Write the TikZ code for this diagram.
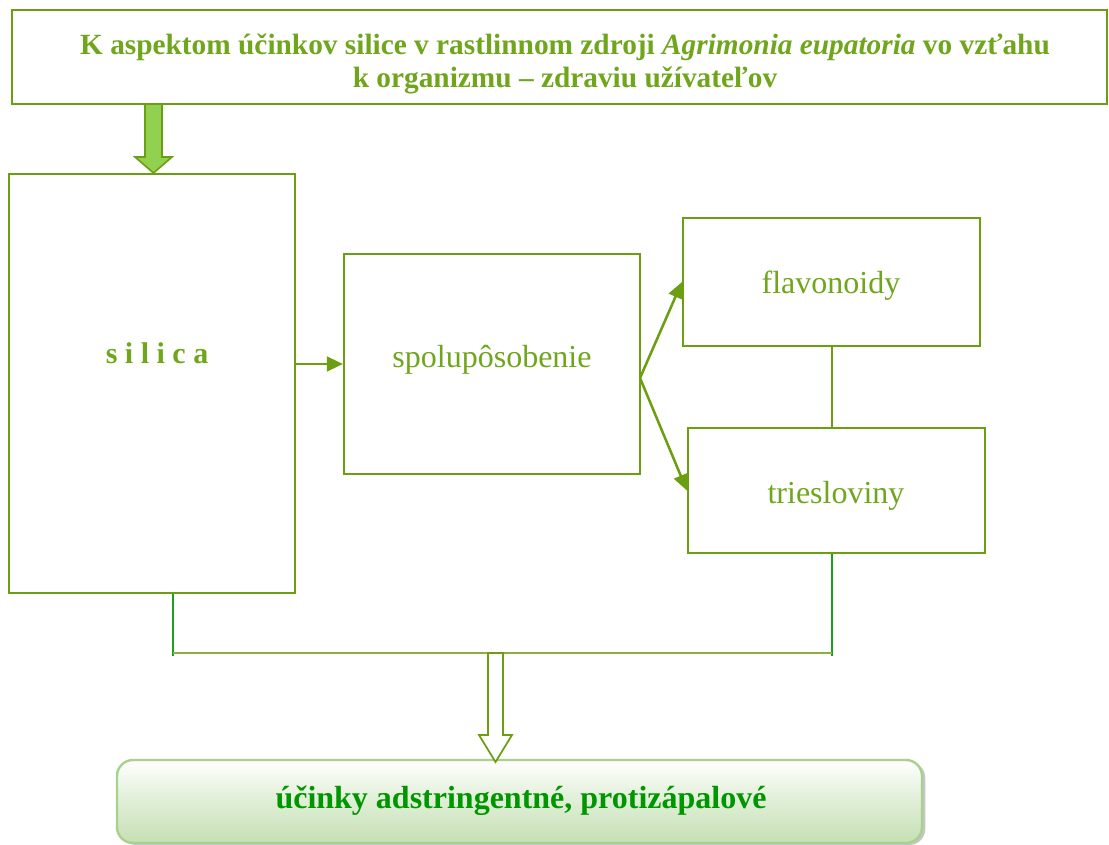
\documentclass[tikz,border=0pt]{standalone}
\usepackage{fontspec}
\setmainfont{Liberation Serif}
\usetikzlibrary{arrows.meta,fit,calc,shadows}
\definecolor{olive}{RGB}{108,158,18}
\definecolor{txtgreen}{RGB}{112,166,28}
\definecolor{linkgreen}{RGB}{30,160,30}
\definecolor{boldgreen}{RGB}{0,150,0}
\definecolor{leaf}{RGB}{146,208,80}
\definecolor{paleedge}{RGB}{169,209,142}
\definecolor{palefill}{RGB}{197,224,180}
\tikzset{
  box/.style={draw=olive, line width=1.6pt, inner sep=0pt, fill=white},
  boxtext/.style={text=txtgreen, font=\fontsize{24}{28}\selectfont},
  link/.style={draw=olive, line width=1.9pt,
    -{Triangle[length=12pt,width=11pt]}},
  joinline/.style={draw=linkgreen, line width=1.2pt},
  barline/.style={draw=olive!80, line width=1.5pt},
}
\begin{document}
\begin{tikzpicture}[x=0.75pt,y=-0.75pt]
\useasboundingbox (0,0) rectangle (1109,845);

% heading box
\node[box, fit={(12,10)(1107,104)}] (head) {};
\node[text=txtgreen, font=\bfseries\fontsize{22}{24.5}\selectfont, align=center]
  (headtxt) at (565,64)
  {K aspektom účinkov silice v rastlinnom zdroji \textit{Agrimonia eupatoria} vo vzťahu\\
   k organizmu – zdraviu užívateľov};

% main boxes
\node[box, fit={(9,174)(295,593)}] (silica) {};
\node[text=txtgreen, font=\bfseries\fontsize{22.5}{24}\selectfont] (silicatxt) at (157,353) {s i l i c a};
\node[box, fit={(344,254)(640,474)}] (sp) {};
\node[boxtext] (sptxt) at (492,360) {spolupôsobenie};
\node[box, fit={(683,218)(980,346)}] (flav) {};
\node[boxtext] (flavtxt) at (831,286) {flavonoidy};
\node[box, fit={(688,428)(985,553)}] (tri) {};
\node[boxtext] (tritxt) at (836,496) {triesloviny};

% filled arrow from the heading into silica
\draw[draw=olive, line width=1.2pt, fill=leaf, line join=miter]
  (145,104) -- (145,157) -- (135,157) -- (153.5,173) -- (172,157) -- (162,157) -- (162,104) -- cycle;

% arrows between boxes
\draw[link] (silica.east |- sp.west) -- (sp.west);
\coordinate (fork) at (640,378);
\draw[link] (fork) -- (flav.west);
\draw[link] (fork) -- (tri.west);
\draw[draw=olive, line width=1.5pt] (flav.south) -- (flav.south |- tri.north);

% collecting lines at the bottom
\coordinate (jl) at (173,656);
\coordinate (jr) at (832,656);
\draw[joinline] (silica.south -| jl) -- (jl);
\draw[joinline] (tri.south -| jr) -- (jr);
\draw[barline] (173,653) -- (832,653);

% result box
\node[draw=paleedge, line width=1.8pt, rounded corners=12pt, inner sep=0pt,
  top color=white, bottom color=palefill, middle color=white!45!palefill,
  drop shadow={shadow xshift=2.5pt, shadow yshift=-1.5pt, opacity=0.45, fill=gray},
  fit={(117,760)(922,843)}] (res) {};
\node[text=boldgreen, font=\bfseries\fontsize{24}{26}\selectfont] (restxt) at (521,801)
  {účinky adstringentné, protizápalové};

% hollow arrow into the result box
\draw[draw=olive, line width=1.3pt, fill=white, line join=miter]
  (488,653) -- (488,735) -- (479,735) -- (495.5,762) -- (512,735) -- (503,735) -- (503,653) -- cycle;
\end{tikzpicture}
\end{document}
